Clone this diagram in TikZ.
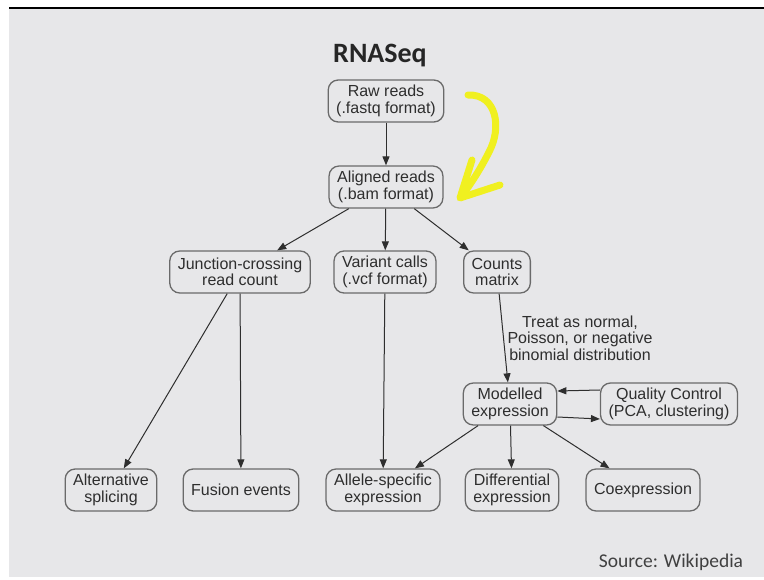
\documentclass[tikz,border=0pt]{standalone}
\usepackage{fontspec}
\setmainfont{Liberation Sans}
\newfontfamily\slidefont{Carlito}
\usetikzlibrary{arrows.meta, positioning}

\definecolor{slidebg}{HTML}{E7E7E9}
\definecolor{boxline}{HTML}{6A6A6A}
\definecolor{ink}{HTML}{2E2E2E}
\definecolor{marker}{HTML}{F0F020}

\begin{document}
\begin{tikzpicture}[
  x=1pt, y=-1pt,
  every node/.style={font=\fontsize{16}{16.5}\selectfont, text=ink},
  box/.style={draw=boxline, line width=1.3pt, rounded corners=10pt, align=center, minimum height=42pt, inner xsep=8pt, inner ysep=3pt},
  arr/.style={-{Triangle[length=9pt, width=7pt]}, draw=ink, line width=1pt},
  note/.style={align=center},
]

 % ---- slide background ----
 \useasboundingbox (0,0) rectangle (764,580);
 \fill[white] (0,0) rectangle (764,580);
 \fill[slidebg] (9,9) rectangle (764,577);
 \draw[black, line width=2pt] (9,8) -- (764,8);

 % ---- title and source ----
 \node[anchor=base, font=\slidefont\fontsize{28}{30}\selectfont\bfseries, text=black!85] (title) at (380,63) {RNASeq};
 \node[anchor=base, font=\slidefont\fontsize{19.5}{21}\selectfont, text=black!75] (source) at (671,567) {Source: Wikipedia};

 % ---- reads ----
 \node[box] (raw) at (386,101) {Raw reads\\(.fastq format)};
 \node[box] (aligned) at (386,187) {Aligned reads\\(.bam format)};

 % ---- second row ----
 \node[box] (junction) at (240,272) {Junction-crossing\\read count};
 \node[box] (variant) at (385,272) {Variant calls\\(.vcf format)};
 \node[box] (counts) at (497,272) {Counts\\matrix};

 \node[note] (treat) at (580,338) {Treat as normal,\\Poisson, or negative\\binomial distribution};

 \node[box] (modelled) at (510,404) {Modelled\\expression};
 \node[box] (qc) at (669,404) {Quality Control\\(PCA, clustering)};

 % ---- bottom row ----
 \node[box] (altsplice) at (111,490) {Alternative\\splicing};
 \node[box] (fusion) at (241,490) {Fusion events};
 \node[box] (allele) at (383,490) {Allele-specific\\expression};
 \node[box] (diffexpr) at (512,490) {Differential\\expression};
 \node[box] (coexpr) at (643,490) {Coexpression};

 \draw[arr] (raw) -- (aligned);
 \draw[arr] (aligned) -- (junction);
 \draw[arr] (aligned) -- (variant);
 \draw[arr] (aligned) -- (counts);
 \draw[arr] (junction) -- (altsplice);
 \draw[arr] (junction) -- (fusion);
 \draw[arr] (variant) -- (allele);
 \draw[arr] (counts) -- (modelled);
 \draw[arr] ([yshift=14pt]qc.west) -- ([yshift=13pt]modelled.east);
 \draw[arr] ([yshift=-13pt]modelled.east) -- ([yshift=-15pt]qc.west);
 \draw[arr] (modelled) -- (allele);
 \draw[arr] (modelled) -- (diffexpr);
 \draw[arr] (modelled) -- (coexpr);

 % ---- hand-drawn marker arrow ----
 \draw[marker, line width=7pt, line cap=round, line join=round]
   (468,95) .. controls (497,94) and (502,128) .. (489,152)
   .. controls (480,170) and (470,185) .. (461,197);
 \draw[marker, line width=7pt, line cap=round, line join=round]
   (472,160) -- (460,198) -- (500,185);

\end{tikzpicture}
\end{document}
